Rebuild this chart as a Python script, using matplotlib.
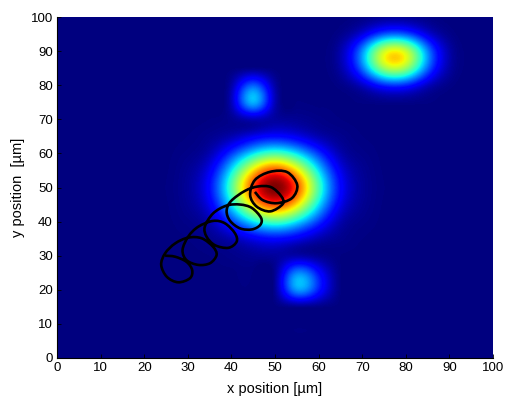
import numpy as np
import matplotlib
matplotlib.use("Agg")
import matplotlib.pyplot as plt
from matplotlib.path import Path
from matplotlib.patches import PathPatch

plt.rcParams['font.family'] = ['Liberation Sans', 'DejaVu Sans']

tick_values = [0, 10, 20, 30, 40, 50, 60, 70, 80, 90, 100]
x_label = "x position [µm]"
y_label = "y position  [µm]"

# intensity, one row per y = 0, 5, ... 100; columns x = 0, 5, ... 100
field_y000 = [0]*21
field_y005 = [0]*21
field_y010 = [0]*21
field_y015 = [0,0,0,0,0,0,0,0,0,0,.002,.012,.008,.001,0,0,0,0,0,0,0]
field_y020 = [0,0,0,0,0,0,0,0,0,0,.020,.270,.150,.006,0,0,0,0,0,0,0]
field_y025 = [0,0,0,0,0,0,0,.001,.002,.003,.020,.250,.135,.006,0,0,0,0,0,0,0]
field_y030 = [0,0,0,0,0,0,.001,.004,.010,.020,.028,.040,.020,.004,.001,0,0,0,0,0,0]
field_y035 = [0,0,0,0,0,.001,.004,.015,.045,.100,.130,.100,.045,.015,.004,.001,0,0,0,0,0]
field_y040 = [0,0,0,0,0,.002,.010,.045,.180,.350,.440,.350,.180,.045,.010,.002,0,0,0,0,0]
field_y045 = [0,0,0,0,0,.003,.020,.100,.350,.670,.830,.670,.350,.100,.020,.003,0,0,0,0,0]
field_y050 = [0,0,0,0,0,.004,.025,.130,.440,.830,1.00,.830,.440,.130,.025,.004,0,0,0,0,0]
field_y055 = [0,0,0,0,0,.003,.020,.100,.350,.670,.830,.670,.350,.100,.020,.003,0,0,0,0,0]
field_y060 = [0,0,0,0,0,.002,.010,.045,.180,.350,.440,.350,.180,.045,.010,.002,0,0,0,0,0]
field_y065 = [0,0,0,0,0,.001,.004,.015,.045,.100,.130,.100,.045,.015,.004,.001,0,0,0,0,0]
field_y070 = [0,0,0,0,0,0,.001,.004,.016,.050,.030,.020,.010,.004,.001,0,0,0,0,0,0]
field_y075 = [0,0,0,0,0,0,0,.001,.050,.300,.050,.004,.002,.002,.005,.010,.010,.005,.001,0,0]
field_y080 = [0,0,0,0,0,0,0,.001,.035,.215,.035,.001,.001,.008,.060,.160,.160,.060,.008,.001,0]
field_y085 = [0,0,0,0,0,0,0,0,.002,.010,.002,0,.003,.035,.230,.530,.530,.230,.035,.003,0]
field_y090 = [0,0,0,0,0,0,0,0,0,0,0,0,.003,.040,.260,.590,.590,.260,.040,.003,0]
field_y095 = [0,0,0,0,0,0,0,0,0,0,0,0,.001,.012,.085,.210,.210,.085,.012,.001,0]
field_y100 = [0,0,0,0,0,0,0,0,0,0,0,0,0,.001,.008,.020,.020,.008,.001,0,0]

field = np.array([field_y000, field_y005, field_y010, field_y015, field_y020, field_y025,
                  field_y030, field_y035, field_y040, field_y045, field_y050, field_y055,
                  field_y060, field_y065, field_y070, field_y075, field_y080, field_y085,
                  field_y090, field_y095, field_y100])

# black looping track
track_x = [24.8, 27.1, 29.7, 31.0, 30.5, 27.8, 25.2, 23.9, 24.8, 27.1, 30.1, 33.2, 35.8, 36.6,
           35.1, 32.4, 29.7, 28.8, 30.1, 32.4, 35.8, 38.5, 40.8, 41.2, 39.3, 36.2, 34.3, 33.9,
           35.8, 38.9, 42.0, 44.7, 46.8, 46.6, 44.7, 42.0, 39.7, 38.9, 39.9, 43.1, 46.1, 49.1,
           51.4, 51.8, 48.9, 45.8, 44.3, 45.4, 48.9, 52.8, 55.1, 53.9, 50.4, 47.2, 45.4]
track_y = [30.0, 29.7, 28.2, 25.8, 23.4, 22.2, 23.8, 27.3, 30.7, 33.6, 35.3, 35.1, 32.6, 30.2,
           27.8, 27.3, 28.7, 31.7, 35.6, 38.5, 40.2, 39.5, 36.6, 34.1, 32.3, 33.1, 35.6, 38.5,
           42.4, 44.7, 45.0, 44.0, 41.1, 39.0, 37.7, 38.0, 40.2, 43.1, 46.0, 49.0, 50.3, 50.1,
           47.5, 45.2, 43.0, 44.4, 47.8, 52.2, 54.6, 54.5, 50.7, 46.9, 45.4, 46.3, 48.7]

fig = plt.figure(figsize=(5.13, 4.03), dpi=100, facecolor='white')
ax = fig.add_axes([57/513, (403-358)/403, (493-57)/513, (358-17)/403])

ax.imshow(field, origin='lower', extent=[-2.5, 102.5, -2.5, 102.5], cmap='jet',
          vmin=0, vmax=1, interpolation='spline36', aspect='auto')

# smooth stroke through every read point (cubic segments handed to the Path)
pts = np.column_stack([track_x, track_y])
verts = [pts[0]]
codes = [Path.MOVETO]
n = len(pts)
for i in range(n - 1):
    before = pts[max(i - 1, 0)]
    after = pts[min(i + 2, n - 1)]
    verts += [pts[i] + (pts[i + 1] - before) / 6, pts[i + 1] - (after - pts[i]) / 6, pts[i + 1]]
    codes += [Path.CURVE4, Path.CURVE4, Path.CURVE4]
ax.add_patch(PathPatch(Path(verts, codes), fill=False, edgecolor='black', lw=1.9, zorder=3))

ax.set_xlim(0, 100)
ax.set_ylim(0, 100)
ax.set_xticks(tick_values)
ax.set_yticks(tick_values)
ax.tick_params(direction='in', length=3, width=0.6, labelsize=9.5, pad=3, color='black')
ax.set_xlabel(x_label, fontsize=10.5, labelpad=6)
ax.set_ylabel(y_label, fontsize=10.5, labelpad=4)
ax.spines['top'].set_visible(False)
ax.spines['right'].set_visible(False)
ax.spines['left'].set_linewidth(0.8)
ax.spines['bottom'].set_linewidth(0.8)

fig.savefig('out.png', dpi=100)
